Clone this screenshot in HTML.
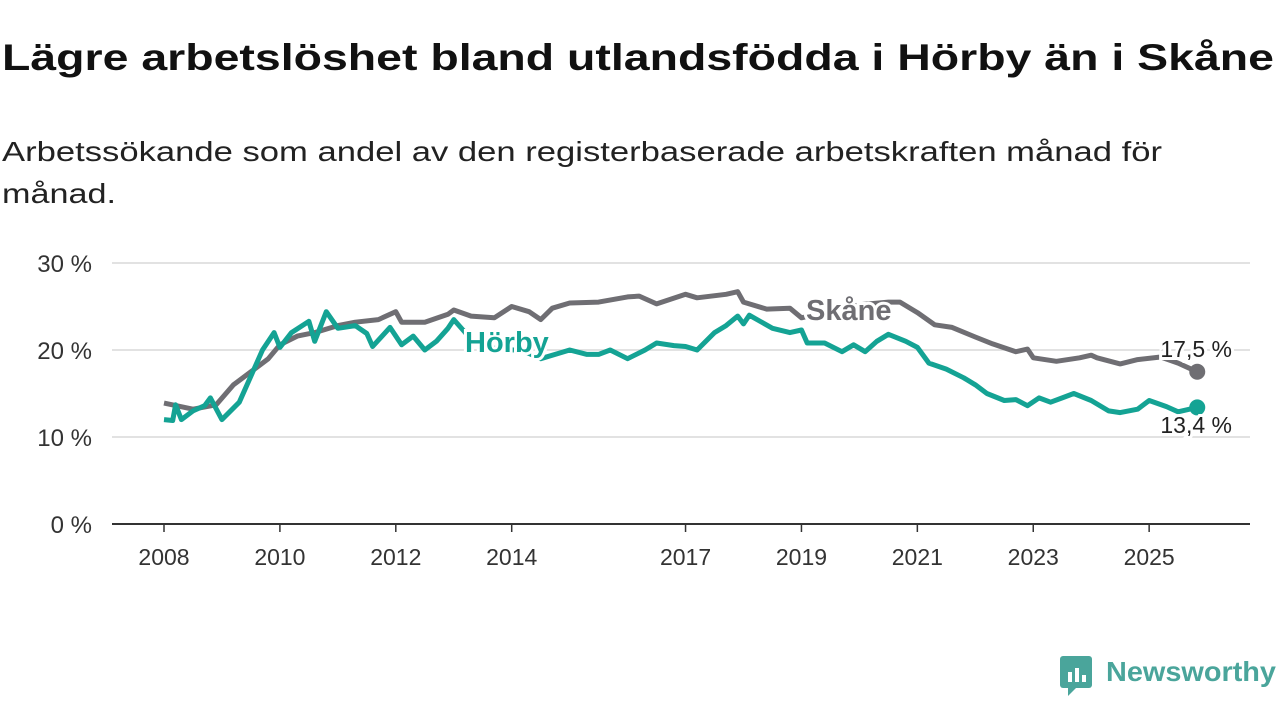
<!DOCTYPE html>
<html><head><meta charset="utf-8"><style>
body{margin:0;background:#fff;width:1280px;height:720px;overflow:hidden;font-family:"Liberation Sans",sans-serif}
</style></head><body>
<svg id="chart" width="1280" height="720" xmlns="http://www.w3.org/2000/svg" font-family="Liberation Sans, sans-serif">
<text x="2" y="70" font-size="37" font-weight="bold" fill="#111" textLength="1272" lengthAdjust="spacingAndGlyphs">Lägre arbetslöshet bland utlandsfödda i Hörby än i Skåne</text>
<text x="2" y="161" font-size="28" fill="#222" textLength="1160" lengthAdjust="spacingAndGlyphs">Arbetssökande som andel av den registerbaserade arbetskraften månad för</text>
<text x="2" y="203" font-size="28" fill="#222" textLength="114" lengthAdjust="spacingAndGlyphs">månad.</text>
<g id="grid"></g><g id="lines"></g><g id="labels"></g>
<g>
<rect x="1060" y="656" width="32" height="32" rx="3" fill="#4aa59b"/>
<rect x="1068" y="672" width="4" height="10" fill="#fff"/><rect x="1075" y="668" width="4" height="14" fill="#fff"/><rect x="1082" y="675" width="4" height="7" fill="#fff"/>
<polygon points="1068,688 1076,688 1068,696" fill="#4aa59b"/>
<text x="1106" y="681" font-size="28" font-weight="bold" fill="#4aa59b" textLength="170" lengthAdjust="spacingAndGlyphs">Newsworthy</text>
</g>
</svg>
<script>
const yTicks=[0,10,20,30];
const xTickYears=[2008,2010,2012,2014,2017,2019,2021,2023,2025];
const skaneT=[2008.0,2008.5,2008.9,2009.2,2009.5,2009.8,2010.0,2010.3,2010.6,2011.0,2011.3,2011.7,2012.0,2012.1,2012.5,2012.9,2013.0,2013.3,2013.7,2014.0,2014.3,2014.5,2014.7,2015.0,2015.5,2016.0,2016.2,2016.5,2017.0,2017.2,2017.7,2017.9,2018.0,2018.4,2018.8,2019.0,2019.5,2020.0,2020.5,2020.7,2021.0,2021.3,2021.6,2022.0,2022.3,2022.7,2022.9,2023.0,2023.4,2023.8,2024.0,2024.1,2024.5,2024.8,2025.2,2025.5,2025.83];
const skaneV=[13.9,13.2,13.7,16,17.5,19,20.6,21.6,22,22.8,23.2,23.5,24.4,23.2,23.2,24.1,24.6,23.9,23.7,25,24.4,23.5,24.8,25.4,25.5,26.1,26.2,25.3,26.4,26,26.4,26.7,25.5,24.7,24.8,23.7,24.5,25.2,25.5,25.5,24.3,22.9,22.6,21.5,20.7,19.8,20.1,19.1,18.7,19.1,19.4,19.1,18.4,18.9,19.2,18.5,17.5];
const horbyT=[2008.0,2008.15,2008.2,2008.3,2008.5,2008.7,2008.8,2009.0,2009.3,2009.5,2009.7,2009.9,2010.0,2010.2,2010.5,2010.6,2010.8,2011.0,2011.3,2011.5,2011.6,2011.9,2012.1,2012.3,2012.5,2012.7,2012.9,2013.0,2013.2,2013.3,2013.7,2014.2,2014.5,2014.8,2015.0,2015.3,2015.5,2015.7,2016.0,2016.3,2016.5,2016.8,2017.0,2017.2,2017.5,2017.7,2017.9,2018.0,2018.1,2018.5,2018.8,2019.0,2019.1,2019.4,2019.7,2019.9,2020.1,2020.3,2020.5,2020.8,2021.0,2021.2,2021.5,2021.8,2022.0,2022.2,2022.5,2022.7,2022.9,2023.1,2023.3,2023.5,2023.7,2024.0,2024.3,2024.5,2024.8,2025.0,2025.3,2025.5,2025.83];
const horbyV=[12.0,11.9,13.7,12.0,13.0,13.6,14.5,12.0,14.0,17.0,20.0,22.0,20.3,22.0,23.3,21.0,24.4,22.5,22.8,21.9,20.4,22.6,20.6,21.6,20.0,21.0,22.5,23.5,22.0,21.0,20.2,19.9,19.0,19.6,20.0,19.5,19.5,20.0,19.0,20.0,20.8,20.5,20.4,20.0,22.0,22.8,23.9,23.0,24.0,22.5,22.0,22.3,20.8,20.8,19.8,20.6,19.8,21.0,21.8,21.0,20.3,18.5,17.8,16.8,16.0,15.0,14.2,14.3,13.6,14.5,14.0,14.5,15.0,14.2,13.0,12.8,13.2,14.2,13.5,12.9,13.4];
const NS="http://www.w3.org/2000/svg";
const X=t=>164+(t-2008)*57.95;
const Y=v=>524-v*8.7;
function mk(tag,attrs,parent){const e=document.createElementNS(NS,tag);for(const k in attrs)e.setAttribute(k,attrs[k]);parent.appendChild(e);return e;}
const grid=document.getElementById('grid'),lines=document.getElementById('lines'),labels=document.getElementById('labels');
yTicks.forEach(v=>{
  const l=mk('line',{x1:112,x2:1250,y1:Y(v),y2:Y(v),stroke:v===0?'#333':'#d9d9d9','stroke-width':v===0?2:1.5},grid);
  
  
  const t=mk('text',{x:92,y:Y(v)+9,'font-size':24,fill:'#333','text-anchor':'end'},grid);
  t.textContent=v+' %';
  
  
});
xTickYears.forEach(yr=>{
  const l=mk('line',{x1:X(yr),x2:X(yr),y1:524,y2:532,stroke:'#333','stroke-width':1.5},grid);
  
  
  const t=mk('text',{x:X(yr),y:565,'font-size':23,fill:'#333','text-anchor':'middle'},grid);
  t.textContent=yr;
  
  
});
function series(T,V,color,name){
  const d=T.map((t,i)=>(i?'L':'M')+X(t).toFixed(1)+','+Y(V[i]).toFixed(1)).join('');
  const p=mk('path',{d:d,fill:'none',stroke:color,'stroke-width':5,'stroke-linejoin':'round'},lines);
  
  
  const c=mk('circle',{cx:X(T[T.length-1]),cy:Y(V[V.length-1]),r:8,fill:color},lines);
  
  
}
series(skaneT,skaneV,'#6f6e73','skane');
series(horbyT,horbyV,'#14a394','horby');
function lab(x,y,txt,color,size,bold,name,anchor){
  const t=mk('text',{x:x,y:y,'font-size':size,'font-weight':bold?'bold':'normal',fill:color,stroke:'#fff','stroke-width':6,'paint-order':'stroke','text-anchor':anchor||'start'},labels);
  t.textContent=txt;
  
  
}
lab(806,320,'Skåne','#6f6e73',29,true,'skane-label');
lab(465,352,'Hörby','#14a394',29,true,'horby-label');
lab(1232,357,'17,5 %','#222',23,false,'skane-value-label','end');
lab(1232,433,'13,4 %','#222',23,false,'horby-value-label','end');
</script>
</body></html>
